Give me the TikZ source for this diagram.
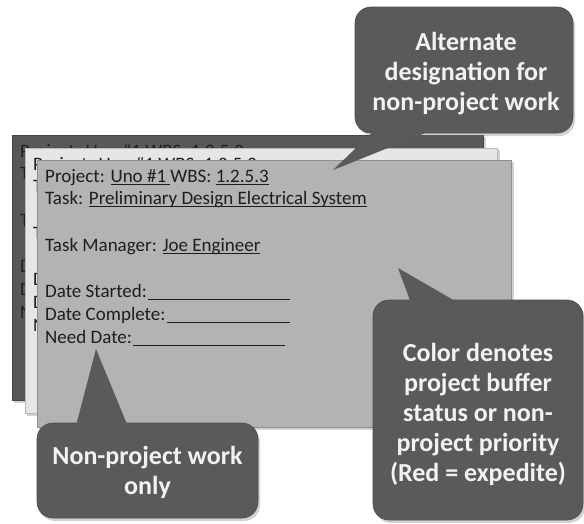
\documentclass[tikz,border=0pt]{standalone}
\usepackage{fontspec}
\setmainfont{Carlito}
\usetikzlibrary{calc,shadows}

\definecolor{darkcard}{HTML}{585858}
\definecolor{lightcard}{HTML}{E6E6E6}
\definecolor{frontcard}{HTML}{B3B3B3}
\definecolor{calloutgray}{HTML}{5A5A5A}
\definecolor{inkgray}{HTML}{1E1E1E}

% underline set just below the baseline, through the descenders
\newcommand{\undl}[1]{\setbox0\hbox{#1}\rlap{\rule[-2.5pt]{\wd0}{0.9pt}}\box0}

\tikzset{
  cardbox/.style={draw=#1!80!black, line width=0.6pt, fill=#1},
  cardshadow/.style={fill=black, opacity=0.18},
  cardtext/.style={anchor=base west, inner sep=0pt, text=inkgray,
    font=\fontsize{19}{22}\selectfont},
  blankline/.style={draw=inkgray, line width=0.9pt},
  calloutbox/.style={fill=calloutgray, draw=calloutgray!85!black, line width=0.6pt,
    rounded corners=16pt, inner sep=0pt,
    drop shadow={opacity=0.35, shadow xshift=2pt, shadow yshift=-3pt}},
  callouttext/.style={text=white!95!black, align=center, inner sep=0pt,
    font=\fontsize{26}{30}\selectfont\bfseries},
  pointer/.style={fill=calloutgray},
}

% Text of one task card; #1 = name prefix, (#2,#3) = top left corner of the card
\newcommand{\taskcard}[3]{%
  \node[cardtext] (#1proj) at (#2+8,#3+22) {Project: \undl{Uno \#1\ } WBS: \undl{1.2.5.3}};
  \node[cardtext] (#1task) at (#2+8,#3+44) {Task: \undl{Preliminary Design Electrical System}};
  \node[cardtext] (#1mgr)  at (#2+8,#3+91) {Task Manager: \undl{Joe Engineer}};
  \node[cardtext] (#1ds)   at (#2+8,#3+137) {Date Started:};
  \node[cardtext] (#1dc)   at (#2+8,#3+160) {Date Complete:};
  \node[cardtext] (#1nd)   at (#2+8,#3+183) {Need Date:};
  \draw[blankline] ($(#1ds.base east)+(1,2.5)$) -- ($(#1ds.base west)+(245,2.5)$);
  \draw[blankline] ($(#1dc.base east)+(1,2.5)$) -- ($(#1dc.base west)+(245,2.5)$);
  \draw[blankline] ($(#1nd.base east)+(1,2.5)$) -- ($(#1nd.base west)+(240,2.5)$);
}

\begin{document}
\begin{tikzpicture}[x=1pt,y=-1pt]
  \useasboundingbox (0,0) rectangle (584,523);
  \fill[white] (0,0) rectangle (584,523);

  % stacked cards, back to front
  \fill[cardshadow] (14,137) rectangle (486,403);
  \path[cardbox=darkcard] (12,135) rectangle (483,400);
  \taskcard{back}{12}{135}

  \fill[cardshadow] (27,150) rectangle (500,416);
  \path[cardbox=lightcard] (25,148) rectangle (497,413);
  \taskcard{mid}{25}{148}

  \fill[cardshadow] (39,162) rectangle (514,430);
  \path[cardbox=frontcard] (37,160) rectangle (511,427);
  \taskcard{front}{37}{160}

  % callout: alternate designation
  \node[calloutbox, minimum width=218pt, minimum height=126pt] (alt) at (464,70) {};
  \coordinate (alttip) at (333,170);
  \fill[pointer] ($(alt.south west)+(25,-8)$) -- (alttip) -- ($(alt.south west)+(90,-8)$) -- cycle;
  \node[callouttext] (alttxt) at ($(alt.center)+(2,4)$)
    {Alternate\\designation for\\non-project work};

  % callout: colour meaning
  \node[calloutbox, minimum width=210pt, minimum height=220pt] (col) at (478,410) {};
  \coordinate (coltip) at (398,268);
  \fill[pointer] ($(col.north west)+(40,8)$) -- (coltip) -- ($(col.north west)+(94,8)$) -- cycle;
  \node[callouttext] (coltxt) at ($(col.center)+(0,4)$)
    {Color denotes\\project buffer\\status or non-\\project priority\\(Red = expedite)};

  % callout: non-project work
  \node[calloutbox, minimum width=221pt, minimum height=95pt] (npw) at (147.5,470.5) {};
  \coordinate (npwtip) at (96,349);
  \fill[pointer] ($(npw.north west)+(38,8)$) -- (npwtip) -- ($(npw.north west)+(93,8)$) -- cycle;
  \node[callouttext] (npwtxt) at ($(npw.center)+(0,2)$) {Non-project work\\only};
\end{tikzpicture}
\end{document}
